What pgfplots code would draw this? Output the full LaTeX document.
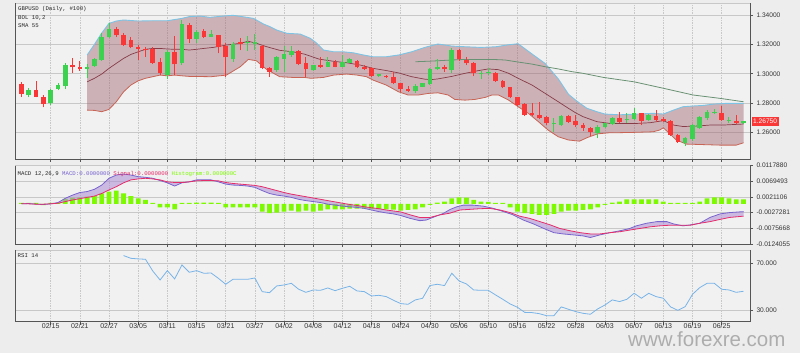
\documentclass[border=0pt]{standalone}
\usepackage{pgfplots}
\pgfplotsset{compat=1.18}
\usepackage{pgfplotstable}
\usepackage{fontspec}
\setmainfont{Liberation Sans}
\newfontfamily\monof{Liberation Mono}

\definecolor{bgc}{RGB}{237,237,237}
\definecolor{plotbg}{RGB}{241,241,241}
\definecolor{gridc}{RGB}{200,200,200}
\definecolor{axisc}{RGB}{85,85,85}
\definecolor{upc}{RGB}{60,210,80}
\definecolor{downc}{RGB}{250,55,55}
\definecolor{bandfill}{RGB}{160,100,112}
\definecolor{upperc}{RGB}{125,195,228}
\definecolor{lowerc}{RGB}{200,100,85}
\definecolor{midc}{RGB}{135,60,72}
\definecolor{smac}{RGB}{105,145,115}
\definecolor{macdc}{RGB}{120,100,205}
\definecolor{sigc}{RGB}{228,45,105}
\definecolor{macdfill}{RGB}{175,140,215}
\definecolor{histc}{RGB}{125,250,0}
\definecolor{rsic}{RGB}{120,180,232}

\pgfplotstableread{
i o h l c
0 1.2930 1.2946 1.2843 1.2862
2 1.2889 1.2952 1.2839 1.2843
3 1.2843 1.2855 1.2770 1.2793
7 1.3059 1.3105 1.3007 1.3043
8 1.3048 1.3089 1.3021 1.3030
13 1.3307 1.3317 1.3253 1.3262
14 1.3262 1.3276 1.3189 1.3198
15 1.3230 1.3253 1.3173 1.3180
16 1.3180 1.3196 1.3094 1.3171
17 1.3171 1.3180 1.3116 1.3162
18 1.3171 1.3180 1.3066 1.3075
19 1.3082 1.3105 1.2991 1.3002
21 1.3150 1.3257 1.2991 1.3064
23 1.3332 1.3344 1.3207 1.3235
25 1.3294 1.3305 1.3241 1.3253
27 1.3264 1.3266 1.3139 1.3185
28 1.3189 1.3207 1.2980 1.3112
30 1.3214 1.3241 1.3162 1.3200
33 1.3189 1.3196 1.3030 1.3037
34 1.3037 1.3043 1.2980 1.3014
38 1.3157 1.3162 1.3059 1.3066
39 1.3071 1.3116 1.2980 1.3030
41 1.3059 1.3112 1.3037 1.3048
43 1.3082 1.3094 1.3043 1.3048
46 1.3089 1.3094 1.3037 1.3043
47 1.3048 1.3059 1.3025 1.3032
48 1.3037 1.3043 1.2980 1.2984
50 1.2987 1.2991 1.2971 1.2975
51 1.2980 1.3014 1.2930 1.2934
52 1.2934 1.2939 1.2877 1.2893
53 1.2898 1.2916 1.2877 1.2884
58 1.3048 1.3059 1.3014 1.3030
60 1.3162 1.3166 1.3089 1.3098
61 1.3094 1.3116 1.3059 1.3071
62 1.3075 1.3082 1.2984 1.3002
65 1.3007 1.3014 1.2946 1.2952
66 1.2952 1.2957 1.2900 1.2907
67 1.2907 1.2912 1.2832 1.2839
68 1.2839 1.2843 1.2780 1.2786
69 1.2793 1.2798 1.2711 1.2718
70 1.2734 1.2798 1.2711 1.2718
71 1.2718 1.2809 1.2689 1.2695
72 1.2707 1.2711 1.2650 1.2661
75 1.2711 1.2718 1.2666 1.2673
76 1.2680 1.2718 1.2639 1.2650
77 1.2650 1.2661 1.2611 1.2627
78 1.2627 1.2639 1.2575 1.2605
82 1.2695 1.2741 1.2666 1.2673
85 1.2730 1.2734 1.2650 1.2680
87 1.2711 1.2752 1.2673 1.2684
88 1.2693 1.2702 1.2668 1.2677
89 1.2680 1.2684 1.2575 1.2582
90 1.2582 1.2589 1.2529 1.2536
96 1.2734 1.2780 1.2680 1.2684
98 1.2680 1.2718 1.2657 1.2661
}\reds

\pgfplotstableread{
i o h l c
1 1.2852 1.2900 1.2839 1.2889
4 1.2798 1.2893 1.2784 1.2889
5 1.2898 1.2934 1.2889 1.2921
6 1.2916 1.3071 1.2893 1.3059
9 1.3034 1.3064 1.2968 1.3046
10 1.3053 1.3105 1.3048 1.3098
11 1.3094 1.3276 1.3089 1.3248
12 1.3248 1.3344 1.3241 1.3307
20 1.2989 1.3162 1.2962 1.3150
22 1.3071 1.3367 1.3059 1.3339
24 1.3235 1.3298 1.3207 1.3285
26 1.3253 1.3298 1.3248 1.3271
29 1.3098 1.3219 1.3082 1.3200
31 1.3212 1.3257 1.3157 1.3219
32 1.3203 1.3271 1.3162 1.3219
35 1.3025 1.3121 1.3014 1.3112
36 1.3098 1.3189 1.3014 1.3135
37 1.3128 1.3189 1.3116 1.3157
40 1.3025 1.3059 1.3021 1.3059
42 1.3048 1.3116 1.3043 1.3082
44 1.3048 1.3128 1.3043 1.3082
45 1.3075 1.3105 1.3071 1.3098
49 1.2984 1.3000 1.2980 1.2996
54 1.2884 1.2930 1.2866 1.2916
55 1.2912 1.2939 1.2907 1.2934
56 1.2930 1.3037 1.2923 1.3030
57 1.3030 1.3098 1.3025 1.3043
59 1.3025 1.3173 1.3002 1.3162
63 1.3000 1.3021 1.2962 1.3005
64 1.3005 1.3037 1.2991 1.3009
73 1.2659 1.2695 1.2605 1.2664
74 1.2650 1.2718 1.2643 1.2711
79 1.2593 1.2650 1.2559 1.2639
80 1.2634 1.2666 1.2627 1.2661
81 1.2657 1.2702 1.2650 1.2695
83 1.2685 1.2730 1.2666 1.2690
84 1.2689 1.2764 1.2684 1.2730
86 1.2684 1.2725 1.2680 1.2718
91 1.2525 1.2566 1.2507 1.2559
92 1.2552 1.2657 1.2543 1.2650
93 1.2627 1.2711 1.2620 1.2707
94 1.2695 1.2752 1.2684 1.2741
95 1.2730 1.2757 1.2725 1.2741
97 1.2681 1.2702 1.2666 1.2686
99 1.2661 1.2675 1.2659 1.2675
}\greens

\pgfplotsset{
  panel/.style={
    scale only axis, width=735pt,
    xmin=-0.891, xmax=99.89,
    axis background/.style={fill=plotbg},
    axis line style={draw=none},
    xtick={4,8,...,96},
    tick align=outside,
    xtick pos=left, ytick pos=right,
    yticklabel pos=right,
    major tick length=3pt,
    tick style={draw=axisc, line width=0.6pt},
    xmajorgrids, ymajorgrids,
    x grid style={draw=gridc, line width=0.5pt, dash pattern=on 1.5pt off 1pt},
    y grid style={draw=gridc, line width=0.7pt},
    tick label style={font=\fontsize{6.6}{7}\selectfont, text=black!80},
    yticklabel style={anchor=west},
    scaled y ticks=false,
  },
}

\begin{document}
\begin{tikzpicture}
\fill[bgc] (0pt,0pt) rectangle (800pt,353pt);

% ---------------- price panel ----------------
\begin{axis}[panel, name=main, at={(15pt,194.1pt)}, anchor=south west, height=155.6pt,
  ymin=1.2419, ymax=1.3481,
  ytick={1.26,1.28,1.30,1.32,1.34},
  yticklabels={1.26000,1.28000,1.30000,1.32000,1.34000},
  xticklabels={}]
% band fill: upper band forward, lower band backward
\addplot[fill=bandfill, fill opacity=0.45, draw=none, forget plot] coordinates {
(9,1.3128) (10,1.3200) (11,1.3278) (12,1.3344) (13,1.3360) (14,1.3367) (16,1.3360) (18,1.3362) (20,1.3362) (22,1.3378) (23,1.3390) (24.5,1.3394) (25.8,1.3385) (27.7,1.3394) (29,1.3399) (30.4,1.3389) (31.8,1.3378) (33.2,1.3339) (34.1,1.3321) (35,1.3298) (36.4,1.3276) (38.2,1.3271) (39.6,1.3242) (40.5,1.3208) (41.4,1.3162) (42.8,1.3150) (44.1,1.3150) (45.5,1.3143) (46.9,1.3128) (48.2,1.3116) (50,1.3116) (51.7,1.3128) (53.5,1.3150) (55.3,1.3180) (57.1,1.3203) (59,1.3189) (61,1.3184) (63,1.3180) (65,1.3184) (66.8,1.3198) (68.1,1.3205) (70,1.3135) (71.8,1.3070) (73.6,1.2965) (75,1.2860) (76.1,1.2815) (77.5,1.2765) (78.9,1.2741) (80,1.2725) (82,1.2720) (84.4,1.2725) (86.6,1.2730) (88,1.2725) (89.4,1.2752) (90.7,1.2775) (92.1,1.2780) (93.5,1.2784) (94.9,1.2793) (96.7,1.2798) (99,1.2798)
(99,1.2529) (98,1.2513) (95.8,1.2513) (91.2,1.2520) (89.8,1.2547) (88.6,1.2604) (88,1.2631) (87.5,1.2616) (86.6,1.2604) (84,1.2600) (82,1.2598) (80.5,1.2597) (79,1.2590) (77.6,1.2565) (76.5,1.2540) (75,1.2548) (73.6,1.2570) (72.2,1.2616) (70.9,1.2672) (69.5,1.2730) (68.1,1.2775) (66.8,1.2820) (65.4,1.2855) (64.5,1.2855) (63.6,1.2839) (62.2,1.2825) (60.8,1.2820) (59.4,1.2825) (58.5,1.2855) (57.1,1.2870) (55.8,1.2866) (54.4,1.2855) (53,1.2855) (51.7,1.2877) (50,1.2923) (48.2,1.2957) (47.3,1.2980) (46,1.2991) (44.6,1.2998) (42.8,1.2991) (41.4,1.2975) (39.7,1.2969) (38.8,1.2975) (37.2,1.2975) (35.4,1.2980) (33.6,1.3030) (32.2,1.3089) (31.1,1.3098) (30,1.3048) (28.1,1.2991) (26,1.2980) (23,1.2982) (22,1.2986) (21,1.2991) (20,1.2986) (19,1.2991) (18,1.2980) (17,1.2969) (16,1.2952) (15,1.2923) (14,1.2877) (13,1.2809) (12,1.2757) (11,1.2741) (10,1.2750) (9,1.2752)} -- cycle;
\addplot[draw=upperc, line width=0.9pt] coordinates {
(9,1.3128) (10,1.3200) (11,1.3278) (12,1.3344) (13,1.3360) (14,1.3367) (16,1.3360) (18,1.3362) (20,1.3362) (22,1.3378) (23,1.3390) (24.5,1.3394) (25.8,1.3385) (27.7,1.3394) (29,1.3399) (30.4,1.3389) (31.8,1.3378) (33.2,1.3339) (34.1,1.3321) (35,1.3298) (36.4,1.3276) (38.2,1.3271) (39.6,1.3242) (40.5,1.3208) (41.4,1.3162) (42.8,1.3150) (44.1,1.3150) (45.5,1.3143) (46.9,1.3128) (48.2,1.3116) (50,1.3116) (51.7,1.3128) (53.5,1.3150) (55.3,1.3180) (57.1,1.3203) (59,1.3189) (61,1.3184) (63,1.3180) (65,1.3184) (66.8,1.3198) (68.1,1.3205) (70,1.3135) (71.8,1.3070) (73.6,1.2965) (75,1.2860) (76.1,1.2815) (77.5,1.2765) (78.9,1.2741) (80,1.2725) (82,1.2720) (84.4,1.2725) (86.6,1.2730) (88,1.2725) (89.4,1.2752) (90.7,1.2775) (92.1,1.2780) (93.5,1.2784) (94.9,1.2793) (96.7,1.2798) (99,1.2798)};
\addplot[draw=lowerc, line width=0.8pt] coordinates {
(9,1.2752) (10,1.2750) (11,1.2741) (12,1.2757) (13,1.2809) (14,1.2877) (15,1.2923) (16,1.2952) (17,1.2969) (18,1.2980) (19,1.2991) (20,1.2986) (21,1.2991) (22,1.2986) (23,1.2982) (26,1.2980) (28.1,1.2991) (30,1.3048) (31.1,1.3098) (32.2,1.3089) (33.6,1.3030) (35.4,1.2980) (37.2,1.2975) (38.8,1.2975) (39.7,1.2969) (41.4,1.2975) (42.8,1.2991) (44.6,1.2998) (46,1.2991) (47.3,1.2980) (48.2,1.2957) (50,1.2923) (51.7,1.2877) (53,1.2855) (54.4,1.2855) (55.8,1.2866) (57.1,1.2870) (58.5,1.2855) (59.4,1.2825) (60.8,1.2820) (62.2,1.2825) (63.6,1.2839) (64.5,1.2855) (65.4,1.2855) (66.8,1.2820) (68.1,1.2775) (69.5,1.2730) (70.9,1.2672) (72.2,1.2616) (73.6,1.2570) (75,1.2548) (76.5,1.2540) (77.6,1.2565) (79,1.2590) (80.5,1.2597) (82,1.2598) (84,1.2600) (86.6,1.2604) (87.5,1.2616) (88,1.2631) (88.6,1.2604) (89.8,1.2547) (91.2,1.2520) (95.8,1.2513) (98,1.2513) (99,1.2529)};
\addplot[draw=midc, line width=0.7pt] coordinates {
(9,1.2945) (10,1.2969) (11,1.2998) (12,1.3037) (13,1.3071) (14,1.3105) (15,1.3132) (16,1.3150) (17,1.3167) (18,1.3173) (19,1.3173) (20,1.3169) (21,1.3167) (22,1.3167) (23,1.3162) (24,1.3167) (25,1.3173) (26.3,1.3180) (28.1,1.3196) (30,1.3208) (31.1,1.3222) (32.2,1.3208) (33.6,1.3185) (35.4,1.3160) (37.2,1.3150) (38.8,1.3134) (40.8,1.3100) (42.8,1.3085) (44.6,1.3075) (46.4,1.3060) (48.2,1.3037) (50,1.3022) (51.7,1.3006) (53.5,1.2980) (55.3,1.2963) (56.2,1.2960) (57.1,1.2965) (59,1.2982) (60.8,1.3003) (62.6,1.3021) (64,1.3033) (65.4,1.3028) (66.8,1.3003) (68.1,1.2969) (70,1.2923) (71.8,1.2866) (73.6,1.2809) (75,1.2764) (76,1.2733) (77,1.2707) (78.9,1.2673) (80.7,1.2661) (82.5,1.2661) (84.4,1.2661) (86.2,1.2666) (88,1.2680) (89.4,1.2650) (90.7,1.2640) (92.6,1.2643) (94.4,1.2650) (96.2,1.2650) (99,1.2657)};
\addplot[draw=smac, line width=0.8pt] coordinates {
(54,1.3082) (56,1.3086) (59,1.3094) (61,1.3098) (64.5,1.3098) (66.3,1.3094) (68.1,1.3080) (70,1.3066) (71.8,1.3048) (73.6,1.3033) (75.4,1.3015) (77,1.3003) (79.8,1.2975) (84,1.2945) (88.1,1.2900) (92.1,1.2855) (95.8,1.2832) (99,1.2809)};
% wicks
\addplot[forget plot, draw=downc, line width=0.9pt, mark=none, quiver={u=0, v=\thisrow{h}-\thisrow{l}}]
  table[x=i, y=l] {\reds};
\addplot[forget plot, draw=upc, line width=0.9pt, mark=none, quiver={u=0, v=\thisrow{h}-\thisrow{l}}]
  table[x=i, y=l] {\greens};
% bodies
\addplot[forget plot, draw=downc, line width=4.6pt, mark=none, quiver={u=0, v=\thisrow{o}-\thisrow{c}}]
  table[x=i, y=c] {\reds};
\addplot[forget plot, draw=upc, line width=4.6pt, mark=none, quiver={u=0, v=\thisrow{c}-\thisrow{o}}]
  table[x=i, y=o] {\greens};
\end{axis}
\draw[gridc, line width=0.6pt] (main.north west) -- (main.north east);
\draw[axisc, line width=0.7pt] (main.north west) -- (main.south west) -- (main.south east) -- (main.north east);

% ---------------- MACD panel ----------------
\begin{axis}[panel, name=macd, at={(15pt,109pt)}, anchor=south west, height=78.3pt,
  ymin=-0.0124055, ymax=0.011788,
  ytick={-0.0124055,-0.0075668,-0.0027281,0.0021106,0.0069493,0.011788},
  yticklabels={-0.0124055,-0.0075668,-0.0027281,0.0021106,0.0069493,0.0117880},
  xticklabels={}]
\addplot[ybar, bar width=4.8pt, bar shift=0pt, fill=histc, draw=none] coordinates {
(0,0.0003) (1,0.0003) (2,0.0003) (3,-0.0004) (4,0.0003) (5,0.0003) (6,0.0015) (7,0.0019) (8,0.0020) (9,0.0022) (10,0.0024) (11,0.0032) (12,0.0038) (13,0.0041) (14,0.0032) (15,0.0024) (16,0.0017) (17,0.0012) (18,0.0003) (19,-0.0011) (20,-0.0011) (21,-0.0017) (22,0.0003) (23,0.0003) (24,0.0004) (25,0.0004) (26,0.0004) (27,0.0003) (28,-0.0011) (29,-0.0011) (30,-0.0011) (31,-0.0011) (32,-0.0011) (33,-0.0024) (34,-0.0029) (35,-0.0027) (36,-0.0024) (37,-0.0021) (38,-0.0024) (39,-0.0021) (40,-0.0024) (41,-0.0021) (42,-0.0017) (43,-0.0017) (44,-0.0017) (45,-0.0015) (46,-0.0015) (47,-0.0015) (48,-0.0016) (49,-0.0016) (50,-0.0017) (51,-0.0018) (52,-0.0021) (53,-0.0019) (54,-0.0017) (55,-0.0011) (56,-0.0003) (57,0.0004) (58,0.0007) (59,0.0017) (60,0.0020) (61,0.0019) (62,0.0012) (63,0.0007) (64,0.0006) (65,0.0003) (66,0.0003) (67,-0.0011) (68,-0.0024) (69,-0.0029) (70,-0.0031) (71,-0.0034) (72,-0.0034) (73,-0.0031) (74,-0.0024) (75,-0.0021) (76,-0.0021) (77,-0.0019) (78,-0.0017) (79,-0.0011) (80,-0.0003) (81,0.0004) (82,0.0007) (83,0.0014) (84,0.0014) (85,0.0014) (86,0.0014) (87,0.0014) (88,0.0007) (89,0.0003) (90,0.0003) (91,0.0003) (92,0.0003) (93,0.0007) (94,0.0017) (95,0.0020) (96,0.0020) (97,0.0017) (98,0.0014) (99,0.0014)};
% fill between MACD (forward) and signal (backward)
\addplot[fill=macdfill, fill opacity=0.55, draw=none, forget plot] coordinates {
(0,0.0000) (1,0.0001) (2,-0.0001) (3,-0.0002) (4,0.0000) (5,0.0004) (6,0.0017) (7,0.0027) (8,0.0035) (9,0.0038) (10,0.0045) (11,0.0058) (12,0.0079) (13,0.0089) (14,0.0092) (15,0.0089) (16,0.0084) (17,0.0082) (18,0.0079) (19,0.0072) (20,0.0065) (21,0.0055) (22,0.0065) (23,0.0068) (24,0.0074) (25,0.0074) (26,0.0074) (27,0.0068) (28,0.0061) (29,0.0058) (30,0.0057) (31,0.0055) (32,0.0051) (33,0.0041) (34,0.0032) (35,0.0027) (36,0.0024) (37,0.0020) (38,0.0014) (39,0.0010) (40,0.0007) (41,0.0004) (42,-0.0001) (43,-0.0004) (44,-0.0007) (45,-0.0009) (46,-0.0011) (47,-0.0014) (48,-0.0019) (49,-0.0024) (50,-0.0028) (51,-0.0031) (52,-0.0036) (53.3,-0.0045) (54.6,-0.0052) (55.5,-0.0050) (56.4,-0.0042) (57.8,-0.0030) (58.8,-0.0017) (59.7,-0.0009) (60.6,-0.0004) (61.9,-0.0004) (63.3,-0.0007) (64.7,-0.0014) (66.1,-0.0024) (67.4,-0.0034) (68.8,-0.0050) (70.2,-0.0062) (71.6,-0.0076) (73,-0.0089) (74.3,-0.0093) (75.7,-0.0096) (77,-0.0099) (78,-0.0104) (79.3,-0.0096) (80.7,-0.0089) (82.1,-0.0083) (83.4,-0.0076) (84.3,-0.0068) (85.7,-0.0060) (87.1,-0.0055) (88.5,-0.0055) (89.4,-0.0062) (90.7,-0.0068) (91.7,-0.0065) (93,-0.0060) (94.4,-0.0042) (95.8,-0.0031) (97.1,-0.0027) (99,-0.0024)
(99,-0.0038) (97.1,-0.0042) (95.8,-0.0048) (94.4,-0.0055) (93,-0.0060) (91.7,-0.0066) (90.3,-0.0066) (88.9,-0.0066) (87.5,-0.0068) (86.2,-0.0071) (84.8,-0.0076) (83.4,-0.0081) (82.1,-0.0086) (80.7,-0.0089) (79.3,-0.0093) (78,-0.0093) (76.6,-0.0089) (75.2,-0.0083) (73.8,-0.0076) (72.5,-0.0065) (71.1,-0.0055) (69.7,-0.0045) (68.3,-0.0038) (67,-0.0027) (65.6,-0.0019) (64.2,-0.0014) (62.9,-0.0015) (61.5,-0.0017) (60.1,-0.0019) (58.7,-0.0029) (57.4,-0.0034) (56,-0.0042) (54.6,-0.0042) (53.3,-0.0034) (52,-0.0025) (51,-0.0022) (50,-0.0019) (49,-0.0015) (48,-0.0012) (47,-0.0009) (46,-0.0005) (45,-0.0002) (44,0.0002) (43,0.0006) (42,0.0010) (41,0.0014) (40,0.0018) (39,0.0022) (38,0.0026) (37,0.0030) (36,0.0035) (35,0.0041) (34,0.0047) (33,0.0053) (32,0.0057) (31,0.0059) (30,0.0061) (29,0.0063) (28,0.0066) (27,0.0071) (26,0.0072) (25,0.0072) (24,0.0071) (23,0.0068) (22,0.0066) (21,0.0066) (20,0.0068) (19,0.0074) (18,0.0077) (17,0.0079) (16,0.0077) (15,0.0074) (14,0.0065) (13,0.0053) (12,0.0043) (11,0.0032) (10,0.0024) (9,0.0020) (8,0.0016) (7,0.0012) (6,0.0007) (5,0.0002) (4,0.0000) (3,-0.0001) (2,-0.0001) (1,0.0000) (0,0.0000)} -- cycle;
\addplot[draw=macdc, line width=0.8pt] coordinates {
(0,0.0000) (1,0.0001) (2,-0.0001) (3,-0.0002) (4,0.0000) (5,0.0004) (6,0.0017) (7,0.0027) (8,0.0035) (9,0.0038) (10,0.0045) (11,0.0058) (12,0.0079) (13,0.0089) (14,0.0092) (15,0.0089) (16,0.0084) (17,0.0082) (18,0.0079) (19,0.0072) (20,0.0065) (21,0.0055) (22,0.0065) (23,0.0068) (24,0.0074) (25,0.0074) (26,0.0074) (27,0.0068) (28,0.0061) (29,0.0058) (30,0.0057) (31,0.0055) (32,0.0051) (33,0.0041) (34,0.0032) (35,0.0027) (36,0.0024) (37,0.0020) (38,0.0014) (39,0.0010) (40,0.0007) (41,0.0004) (42,-0.0001) (43,-0.0004) (44,-0.0007) (45,-0.0009) (46,-0.0011) (47,-0.0014) (48,-0.0019) (49,-0.0024) (50,-0.0028) (51,-0.0031) (52,-0.0036) (53.3,-0.0045) (54.6,-0.0052) (55.5,-0.0050) (56.4,-0.0042) (57.8,-0.0030) (58.8,-0.0017) (59.7,-0.0009) (60.6,-0.0004) (61.9,-0.0004) (63.3,-0.0007) (64.7,-0.0014) (66.1,-0.0024) (67.4,-0.0034) (68.8,-0.0050) (70.2,-0.0062) (71.6,-0.0076) (73,-0.0089) (74.3,-0.0093) (75.7,-0.0096) (77,-0.0099) (78,-0.0104) (79.3,-0.0096) (80.7,-0.0089) (82.1,-0.0083) (83.4,-0.0076) (84.3,-0.0068) (85.7,-0.0060) (87.1,-0.0055) (88.5,-0.0055) (89.4,-0.0062) (90.7,-0.0068) (91.7,-0.0065) (93,-0.0060) (94.4,-0.0042) (95.8,-0.0031) (97.1,-0.0027) (99,-0.0024)};
\addplot[draw=sigc, line width=0.8pt] coordinates {
(0,0.0000) (1,0.0000) (2,-0.0001) (3,-0.0001) (4,0.0000) (5,0.0002) (6,0.0007) (7,0.0012) (8,0.0016) (9,0.0020) (10,0.0024) (11,0.0032) (12,0.0043) (13,0.0053) (14,0.0065) (15,0.0074) (16,0.0077) (17,0.0079) (18,0.0077) (19,0.0074) (20,0.0068) (21,0.0066) (22,0.0066) (23,0.0068) (24,0.0071) (25,0.0072) (26,0.0072) (27,0.0071) (28,0.0066) (29,0.0063) (30,0.0061) (31,0.0059) (32,0.0057) (33,0.0053) (34,0.0047) (35,0.0041) (36,0.0035) (37,0.0030) (38,0.0026) (39,0.0022) (40,0.0018) (41,0.0014) (42,0.0010) (43,0.0006) (44,0.0002) (45,-0.0002) (46,-0.0005) (47,-0.0009) (48,-0.0012) (49,-0.0015) (50,-0.0019) (51,-0.0022) (52,-0.0025) (53.3,-0.0034) (54.6,-0.0042) (56,-0.0042) (57.4,-0.0034) (58.7,-0.0029) (60.1,-0.0019) (61.5,-0.0017) (62.9,-0.0015) (64.2,-0.0014) (65.6,-0.0019) (67,-0.0027) (68.3,-0.0038) (69.7,-0.0045) (71.1,-0.0055) (72.5,-0.0065) (73.8,-0.0076) (75.2,-0.0083) (76.6,-0.0089) (78,-0.0093) (79.3,-0.0093) (80.7,-0.0089) (82.1,-0.0086) (83.4,-0.0081) (84.8,-0.0076) (86.2,-0.0071) (87.5,-0.0068) (88.9,-0.0066) (90.3,-0.0066) (91.7,-0.0066) (93,-0.0060) (94.4,-0.0055) (95.8,-0.0048) (97.1,-0.0042) (99,-0.0038)};
\end{axis}
\draw[gridc, line width=0.6pt] (macd.north west) -- (macd.north east);
\draw[axisc, line width=0.7pt] (macd.north west) -- (macd.south west) -- (macd.south east) -- (macd.north east);

% ---------------- RSI panel ----------------
\begin{axis}[panel, name=rsi, at={(15pt,31.3pt)}, anchor=south west, height=71.7pt,
  ymin=20.72, ymax=81.22, ytick={30,70}, yticklabels={30.000,70.000},
  xticklabels={02/15,02/21,02/27,03/05,03/11,03/15,03/21,03/27,04/02,04/08,04/12,04/18,04/24,04/30,05/06,05/10,05/16,05/22,05/28,06/03,06/07,06/13,06/19,06/25},
  xticklabel style={font=\fontsize{7}{8}\selectfont, inner sep=0pt, yshift=1.4pt}]
\addplot[draw=rsic, line width=0.8pt] coordinates {
(14,76.5) (15,74.2) (16,73.7) (17,73.4) (18,63.5) (19,55.9) (20,63.8) (21,56.8) (22,68.6) (23,62.4) (24,63.8) (25,61.6) (26,61.8) (27,57.3) (28,52.3) (29,56.5) (30,56.5) (31,56.5) (32,57.6) (33,46.1) (34,45.2) (35,50.9) (36,51.7) (37,53.1) (38,48.1) (39,45.5) (40,47.5) (41,47.2) (42,49.2) (43,46.9) (44,48.9) (45,50.6) (46,46.7) (47,46.1) (48,42.4) (49,43.0) (50,41.9) (51,38.8) (52,36.0) (53,35.4) (54,39.1) (55,40.5) (56,51.2) (57,52.3) (58,51.2) (59,61.6) (60,55.1) (61,52.6) (62,47.5) (63,47.2) (64,47.2) (65,43.3) (66,39.6) (67,35.7) (68,32.9) (69,28.6) (70,28.4) (71,27.5) (72,25.8) (73,25.8) (74,33.2) (75,31.2) (76,29.2) (77,27.8) (78,27.0) (79,31.5) (80,34.8) (81,39.1) (82,37.7) (83,39.6) (84,44.7) (85,40.5) (86,44.7) (87,41.9) (88,40.5) (89,33.2) (90,30.3) (91,33.4) (92,43.8) (93,49.5) (94,53.1) (95,53.1) (96,48.1) (97,47.5) (98,45.5) (99,46.4)};
\end{axis}
\draw[gridc, line width=0.6pt] (rsi.north west) -- (rsi.north east);
\draw[axisc, line width=0.7pt] (rsi.north west) -- (rsi.south west) -- (rsi.south east) -- (rsi.north east);

% ---------------- texts ----------------
\begin{scope}[every node/.style={anchor=base west, inner sep=0pt, font=\monof\fontsize{5.7}{7}\selectfont, text=black!85}]
\node at (18pt,342pt) {GBPUSD (Daily, \#100)};
\node at (18pt,333.5pt) {BOL 10,2};
\node at (18pt,325.2pt) {SMA 55};
\node at (17.5pt,177.5pt) {MACD 12,26,9 \textcolor{macdc}{MACD:0.0000000} \textcolor{sigc}{Signal:0.0000000} \textcolor{histc}{Histogram:0.000000C}};
\node at (17.5pt,95.5pt) {RSI 14};
\end{scope}
\fill[downc] (751.7pt,227pt) rectangle (778.5pt,235.8pt);
\node[font=\fontsize{6.6}{7}\selectfont, text=white, inner sep=0pt] at (765.1pt,231.4pt) {1.26750};
\node[anchor=base west, inner sep=0pt, font=\fontsize{20.5}{24}\selectfont, text=black!32] at (628pt,6pt) {www.forexre.com};
\pgfresetboundingbox
\path[use as bounding box] (0pt,0pt) rectangle (800pt,353pt);
\end{tikzpicture}
\end{document}
